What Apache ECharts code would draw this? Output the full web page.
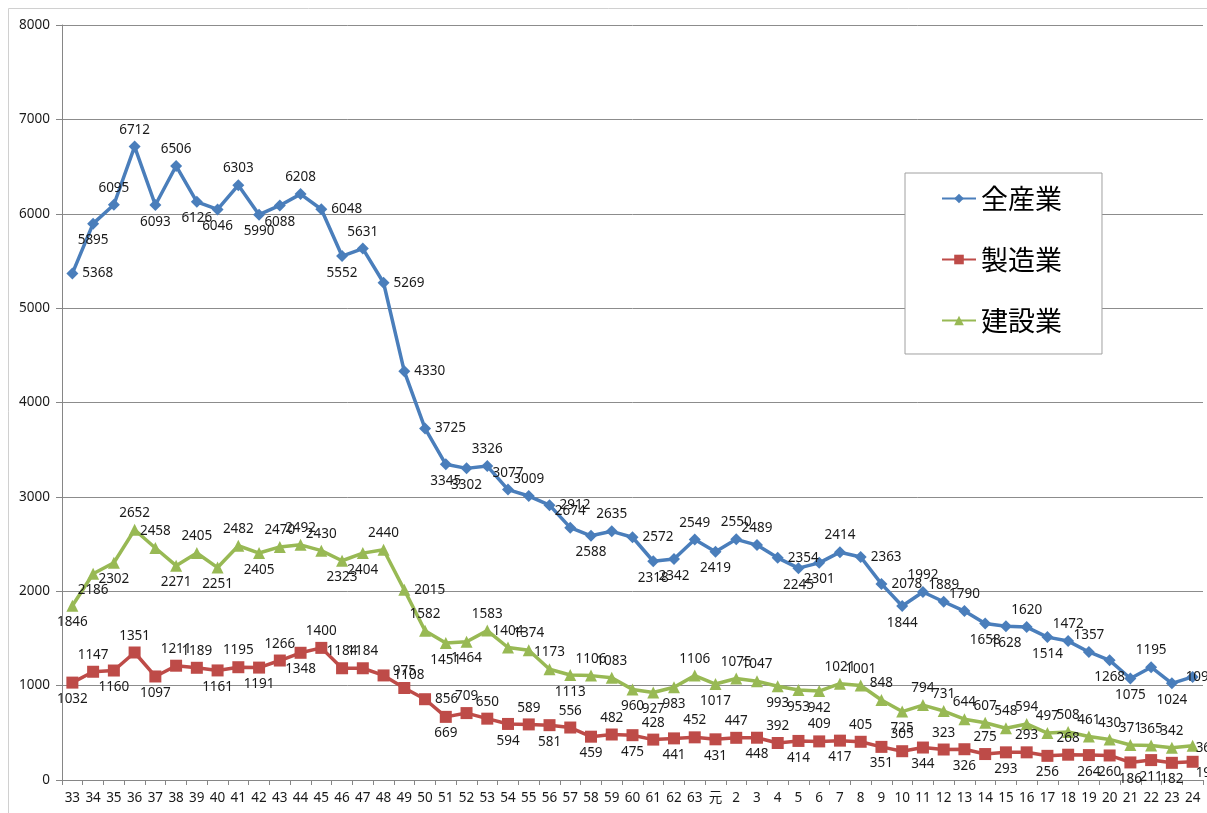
<!DOCTYPE html>
<html><head><meta charset="utf-8">
<script src="https://cdn.jsdelivr.net/npm/echarts@6/dist/echarts.min.js"></script>
<style>html,body{margin:0;padding:0;background:#fff;}#c{width:1207px;height:813px;}</style>
</head><body><div id="c"></div>
<script>
var categories = ['33','34','35','36','37','38','39','40','41','42','43','44','45','46','47','48','49','50','51','52','53','54','55','56','57','58','59','60','61','62','63','元','2','3','4','5','6','7','8','9','10','11','12','13','14','15','16','17','18','19','20','21','22','23','24'];
var seriesNames = ['全産業','製造業','建設業'];
var allIndustry = [5368,5895,6095,6712,6093,6506,6126,6046,6303,5990,6088,6208,6048,5552,5631,5269,4330,3725,3345,3302,3326,3077,3009,2912,2674,2588,2635,2572,2318,2342,2549,2419,2550,2489,2354,2245,2301,2414,2363,2078,1844,1992,1889,1790,1658,1628,1620,1514,1472,1357,1268,1075,1195,1024,1092];
var manufacturing = [1032,1147,1160,1351,1097,1211,1189,1161,1195,1191,1266,1348,1400,1184,1184,1108,975,856,669,709,650,594,589,581,556,459,482,475,428,441,452,431,447,448,392,414,409,417,405,351,305,344,323,326,275,293,293,256,268,264,260,186,211,182,193];
var construction = [1846,2186,2302,2652,2458,2271,2405,2251,2482,2405,2470,2492,2430,2323,2404,2440,2015,1582,1451,1464,1583,1404,1374,1173,1113,1106,1083,960,927,983,1106,1017,1075,1047,993,953,942,1021,1001,848,725,794,731,644,607,548,594,497,508,461,430,371,365,342,362];
var yTicks = [0,1000,2000,3000,4000,5000,6000,7000,8000];

// label placement codes per point (t/b/r/l/tr/br/bl/tl; e* = clipped at right edge)
var allLabelSides = ['r','br','tl','t','b','t','bl','b','t','b','b','t','r','b','t','r','r','r','bl','b','t','tr','tr','r','tr','b','tr','r','b','b','t','b','t','tr','r','b','br','t','r','r','b','tr','tr','tr','bl','b','tr','b','tr','tr','bl','b','t','br','eA'];
var mfgLabelSides = ['b','t','b','t','b','t','tr','b','t','b','t','b','t','t','tr','r','tr','r','b','t','tr','b','t','b','t','b','t','b','t','b','t','b','t','b','t','b','t','b','t','b','t','b','t','b','t','b','t','b','t','b','b','b','b','br','eM'];
var conLabelSides = ['b','br','br','t','tr','b','t','b','t','b','t','t','tr','b','br','t','r','tr','b','b','t','tr','tr','tr','b','t','tr','bl','b','br','t','b','t','tr','b','b','b','t','tr','tr','b','t','t','t','t','t','t','t','t','t','t','t','t','t','eC'];

function labelFor(code){
  var m = {
    t:{position:'top'}, b:{position:'bottom'}, r:{position:'right'}, l:{position:'left'},
    tr:{position:'top',offset:[16,3]}, tl:{position:'top',offset:[-16,3]},
    br:{position:'bottom',offset:[16,-3]}, bl:{position:'bottom',offset:[-16,-3]},
    eA:{position:[-1,6], verticalAlign:'middle', align:'left'},
    eM:{position:[9,17], verticalAlign:'middle', align:'left'},
    eC:{position:[9,8], verticalAlign:'middle', align:'left'}
  };
  return m[code];
}
function buildData(vals, sides){
  return vals.map(function(v,i){ return {value:v, label:labelFor(sides[i])}; });
}

var font = '"Noto Sans", "Noto Sans CJK JP", sans-serif';
var cjk = '"Noto Sans CJK JP", sans-serif';
var chart = echarts.init(document.getElementById('c'));
function mk(name, vals, sides, color, symbol, size){
  return {
    name:name, type:'line', data:buildData(vals, sides),
    symbol:symbol, symbolSize:size, showAllSymbol:true,
    lineStyle:{color:color, width:3.5}, itemStyle:{color:color},
    label:{show:true, color:'#1a1a1a', fontSize:13.5, fontFamily:font, distance:4},
    labelLayout:{hideOverlap:false},
    z: 3
  };
}
chart.setOption({
  animation:false,
  backgroundColor:'#fff',
  graphic:[{type:'rect', shape:{x:8.5,y:8.5,width:1400,height:1000}, style:{fill:'none', stroke:'#d0d0d0', lineWidth:1}, silent:true, z:-10}],
  grid:{left:62, right:4, top:25, bottom:33, containLabel:false},
  legend:{
    orient:'vertical', left:905, top:173,
    data:seriesNames,
    backgroundColor:'#fff', borderColor:'#a0a0a0', borderWidth:1,
    padding:[12,40,20,36], itemGap:34, itemWidth:34, itemHeight:12,
    textStyle:{fontSize:27, color:'#000', fontFamily:cjk}
  },
  xAxis:{
    type:'category', data:categories, boundaryGap:true,
    axisLine:{lineStyle:{color:'#868686', width:1}},
    axisTick:{show:true, alignWithLabel:false, length:5, lineStyle:{color:'#868686'}},
    axisLabel:{color:'#1a1a1a', fontSize:13.5, fontFamily:font, interval:0, margin:11}
  },
  yAxis:{
    type:'value', min:0, max:8000, interval:1000,
    axisLine:{show:true, lineStyle:{color:'#868686'}},
    axisTick:{show:true, length:6, lineStyle:{color:'#868686'}},
    axisLabel:{color:'#1a1a1a', fontSize:13.5, fontFamily:font, margin:12,
      formatter:function(v){ return yTicks.indexOf(v)>=0 ? String(v) : ''; }},
    splitLine:{lineStyle:{color:'#8c8c8c', width:1}}
  },
  series:[
    mk(seriesNames[0], allIndustry, allLabelSides, '#4A7EBB', 'diamond', 12),
    mk(seriesNames[1], manufacturing, mfgLabelSides, '#BE4B48', 'rect', 12),
    mk(seriesNames[2], construction, conLabelSides, '#98B954', 'triangle', 12)
  ]
});
</script>
</body></html>
